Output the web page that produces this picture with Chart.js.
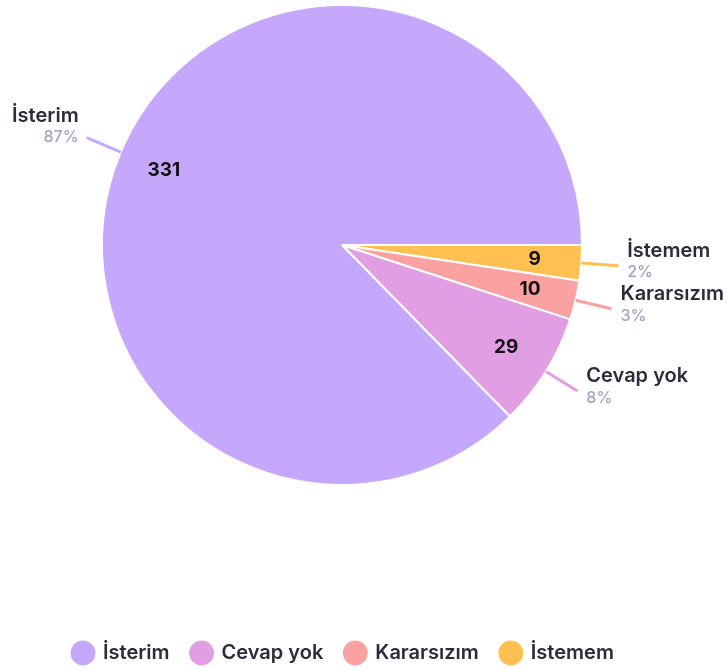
<!DOCTYPE html>
<html>
<head>
<meta charset="utf-8">
<script src="https://cdn.jsdelivr.net/npm/chart.js@4.4.0/dist/chart.umd.min.js"></script>
<style>
  html, body { margin: 0; padding: 0; background: #fff; }
</style>
</head>
<body>
<canvas id="myChart" width="727" height="671"></canvas>
<script>
// data, in legend order
var labels = ['İsterim', 'Cevap yok', 'Kararsızım', 'İstemem'];
var values = [331, 29, 10, 9];
var colors = ['#c5a8fc', '#e29ee3', '#fca1a1', '#fec050'];

var FONT = 'Inter';
var total = values.reduce(function (a, b) { return a + b; }, 0);

// slices are drawn clockwise from 3 o'clock starting with the smallest one,
// so feed them reversed and flip the legend back
var chartLabels = labels.slice().reverse();
var chartValues = values.slice().reverse();
var chartColors = colors.slice().reverse();

// value inside, name + percent outside with a short leader line
var sliceLabels = {
  id: 'sliceLabels',
  afterDatasetsDraw: function (chart) {
    var ctx = chart.ctx;
    var ds = chart.data.datasets[0];
    chart.getDatasetMeta(0).data.forEach(function (arc, i) {
      var p = arc.getProps(['x', 'y', 'startAngle', 'endAngle', 'outerRadius'], true);
      var mid = (p.startAngle + p.endAngle) / 2;
      var cos = Math.cos(mid), sin = Math.sin(mid);
      var r = p.outerRadius;

      ctx.save();
      ctx.font = 'bold 19px ' + FONT;
      ctx.fillStyle = '#111';
      ctx.textAlign = 'center';
      ctx.textBaseline = 'middle';
      ctx.fillText(ds.data[i], p.x + cos * r * 0.805, p.y + sin * r * 0.805);

      var x1 = p.x + cos * r, y1 = p.y + sin * r;
      var x2 = p.x + cos * (r + 37), y2 = p.y + sin * (r + 37);
      ctx.strokeStyle = ds.backgroundColor[i];
      ctx.lineWidth = 3;
      ctx.beginPath();
      ctx.moveTo(x1, y1);
      ctx.lineTo(x2, y2);
      ctx.stroke();

      var right = cos >= 0;
      ctx.textAlign = right ? 'left' : 'right';
      var tx = right ? x2 + 9 : x2 - 8;
      ctx.font = '600 20px ' + FONT;
      ctx.fillStyle = '#2b2b3b';
      ctx.fillText(chart.data.labels[i], tx, y2 + (right ? -15 : -22));
      ctx.font = '500 16px ' + FONT;
      ctx.fillStyle = '#9ea3c4';
      ctx.fillText(Math.round(ds.data[i] / total * 100) + '%', tx, y2 + (right ? 7 : 0));
      ctx.restore();
    });
  }
};

// legend sits well below the pie and a bit right of the left edge
var legendMove = {
  id: 'legendMove',
  afterLayout: function (chart) {
    var l = chart.legend;
    l.top += 135;
    l.bottom += 135;
    l.left += 51;
    l.right += 51;
  }
};

var ctx = document.getElementById('myChart').getContext('2d');
var myPieChart = new Chart(ctx, {
  type: 'pie',
  data: {
    labels: chartLabels,
    datasets: [{
      data: chartValues,
      backgroundColor: chartColors,
      borderColor: '#fff',
      borderWidth: 2,
      hoverOffset: 0
    }]
  },
  options: {
    responsive: false,
    animation: false,
    rotation: 90,
    layout: { padding: { top: 4, bottom: 133, left: 0, right: 43 } },
    plugins: {
      tooltip: { enabled: false },
      legend: {
        position: 'bottom',
        align: 'start',
        reverse: true,
        labels: {
          usePointStyle: true,
          pointStyle: 'circle',
          boxWidth: 22,
          boxHeight: 19,
          padding: 22,
          color: '#2b2b3b',
          font: { family: FONT, size: 20, weight: '600' }
        }
      }
    }
  },
  plugins: [sliceLabels, legendMove]
});
</script>
</body>
</html>
